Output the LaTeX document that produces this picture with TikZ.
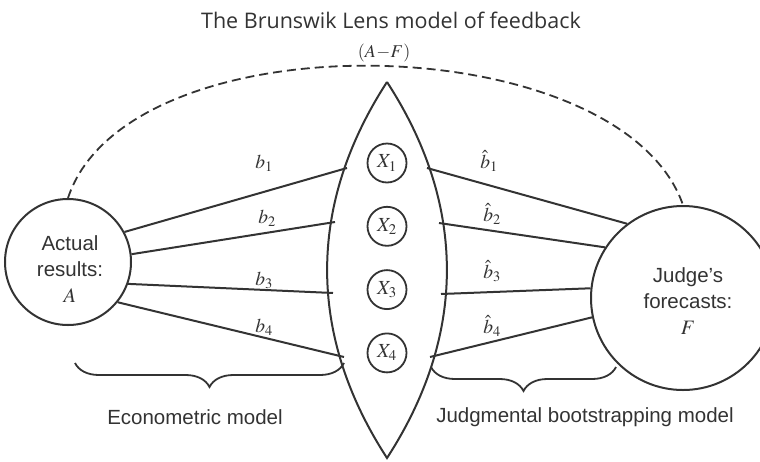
\documentclass[tikz,border=0pt]{standalone}
\usepackage{mathptmx}
\usepackage{fontspec}
\setmainfont{Liberation Sans}
\newfontfamily\titlefont{Open Sans}
\usepackage{tikz}
\usetikzlibrary{positioning, decorations.pathreplacing}
\definecolor{ink}{gray}{0.2}
\tikzset{
    bignode/.style={circle, draw=ink, line width=2pt, inner sep=0pt},
    bigtext/.style={align=center, text=ink, font=\fontsize{20.5}{26}\selectfont},
    cuenode/.style={circle, draw=ink, line width=1.8pt, minimum size=39pt, inner sep=0pt,
        font=\fontsize{20}{20}\selectfont, text=ink},
    cueline/.style={draw=ink, line width=2pt},
    coeflabel/.style={font=\fontsize{19.5}{19.5}\selectfont, text=ink},
    modelbrace/.style={decorate, decoration={brace, mirror, amplitude=24pt}, draw=ink, line width=1.8pt},
    modellabel/.style={font=\fontsize{20.5}{20.5}\selectfont, text=ink}
}

\begin{document}
\begin{tikzpicture}[x=1pt, y=-1pt, node distance=22.5pt]
        \useasboundingbox (0,0) rectangle (760,461);
        % title and feedback arc
        \node[font=\titlefont\fontsize{21.5}{21.5}\selectfont, text=ink] (title) at (391,20) {The Brunswik Lens model of feedback};
        \node[coeflabel, font=\fontsize{18}{18}\selectfont] (diff) at (384,53) {$(A\!-\!F)$};
        \node[bignode, minimum size=126pt] (A) at (68,262) {};
        \node[bignode, minimum size=184pt] (F) at (683,298) {};
        \node[bigtext] (Atext) at (70,269) {Actual\\results:\\$A$};
        \node[bigtext] (Ftext) at (688,301) {Judge's\\forecasts:\\$F$};
        \draw[ink, line width=1.8pt, dash pattern=on 9pt off 5pt] (A.north) .. controls (128,16) and (620,25) .. (F.north);
        % the lens
        \draw[cueline] (387,82) to[bend left=33] (387,458) to[bend left=33] (387,82);
        \node[cuenode] (X1) at (387,163) {$X_1$};
        \node[cuenode, below=of X1] (X2) {$X_2$};
        \node[cuenode, below=of X2] (X3) {$X_3$};
        \node[cuenode, below=of X3] (X4) {$X_4$};
        % where the cue lines meet the lens
        \coordinate (l1) at (347,168);
        \coordinate (l2) at (335,222);
        \coordinate (l3) at (333,293);
        \coordinate (l4) at (344,357);
        \coordinate (r1) at (427,168);
        \coordinate (r2) at (439,223);
        \coordinate (r3) at (441,294);
        \coordinate (r4) at (430,357);
        \draw[cueline] (A.28) -- (l1);
        \draw[cueline] (A.7) -- (l2);
        \draw[cueline] (A.-20) -- (l3);
        \draw[cueline] (A.-39) -- (l4);
        \draw[cueline] (r1) -- (F.127);
        \draw[cueline] (r2) -- (F.147);
        \draw[cueline] (r3) -- (F.174);
        \draw[cueline] (r4) -- (F.192);
        \node[coeflabel] (b1) at (264,163) {$b_1$};
        \node[coeflabel] (b2) at (267,218) {$b_2$};
        \node[coeflabel] (b3) at (264,280) {$b_3$};
        \node[coeflabel] (b4) at (264,327) {$b_4$};
        \node[coeflabel] (h1) at (489,161) {$\hat{b}_1$};
        \node[coeflabel] (h2) at (492,214) {$\hat{b}_2$};
        \node[coeflabel] (h3) at (492,271) {$\hat{b}_3$};
        \node[coeflabel] (h4) at (492,326) {$\hat{b}_4$};
        % the two models
        \draw[modelbrace] (75,363) -- (344,363);
        \draw[modelbrace] (431,367) -- (616,367);
        \node[modellabel] (econ) at (195,417) {Econometric model};
        \node[modellabel] (boot) at (585,417) {Judgmental bootstrapping model};
    \end{tikzpicture}
\end{document}
